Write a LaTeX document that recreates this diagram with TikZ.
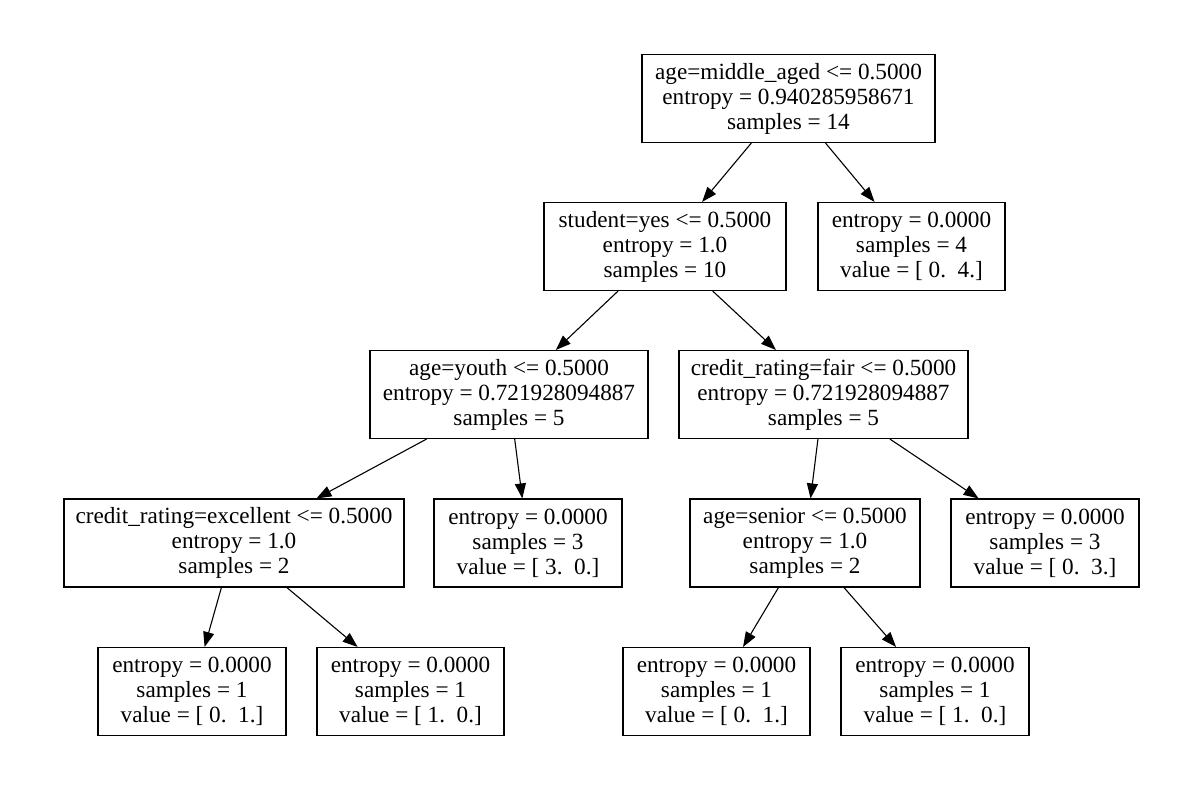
\documentclass[tikz,border=0pt]{standalone}
\usepackage{fontspec}
\setmainfont{Liberation Serif}
\usetikzlibrary{arrows.meta}
\begin{document}
\begin{tikzpicture}[x=1pt,y=-1pt,
  box/.style={draw,line width=1.1pt,align=center,inner sep=0pt,minimum height=88pt,
    font=\fontsize{23.2}{25}\selectfont},
  edge/.style={line width=1.1pt,-{Triangle[length=15pt,width=11pt]}}]
\useasboundingbox (0,0) rectangle (1194,788);
\fill[white] (0,0) rectangle (1194,788);
\node[box,minimum width=293pt] (n0) at (788.5,98.5) {age=middle\_aged <= 0.5000\\entropy = 0.940285958671\\samples = 14};
\node[box,minimum width=242pt] (n1) at (665,246.5) {student=yes <= 0.5000\\entropy = 1.0\\samples = 10};
\node[box,minimum width=187pt] (n2) at (911.5,246.5) {entropy = 0.0000\\samples = 4\\value = [ 0.\ \ 4.]};
\node[box,minimum width=278pt] (n3) at (509,394.5) {age=youth <= 0.5000\\entropy = 0.721928094887\\samples = 5};
\node[box,minimum width=289pt] (n4) at (823.5,394.5) {credit\_rating=fair <= 0.5000\\entropy = 0.721928094887\\samples = 5};
\node[box,minimum width=340pt] (n5) at (234,543) {credit\_rating=excellent <= 0.5000\\entropy = 1.0\\samples = 2};
\node[box,minimum width=188pt] (n6) at (528,543) {entropy = 0.0000\\samples = 3\\value = [ 3.\ \ 0.]};
\node[box,minimum width=230pt] (n7) at (805,543) {age=senior <= 0.5000\\entropy = 1.0\\samples = 2};
\node[box,minimum width=188pt] (n8) at (1045,543) {entropy = 0.0000\\samples = 3\\value = [ 0.\ \ 3.]};
\node[box,minimum width=188pt] (n9) at (192,691.5) {entropy = 0.0000\\samples = 1\\value = [ 0.\ \ 1.]};
\node[box,minimum width=187pt] (n10) at (410.5,691.5) {entropy = 0.0000\\samples = 1\\value = [ 1.\ \ 0.]};
\node[box,minimum width=187pt] (n11) at (716.5,691.5) {entropy = 0.0000\\samples = 1\\value = [ 0.\ \ 1.]};
\node[box,minimum width=188pt] (n12) at (935,691.5) {entropy = 0.0000\\samples = 1\\value = [ 1.\ \ 0.]};
\draw[edge] (n0) -- (n1);
\draw[edge] (n0) -- (n2);
\draw[edge] (n1) -- (n3);
\draw[edge] (n1) -- (n4);
\draw[edge] (n3) -- (n5);
\draw[edge] (n3) -- (n6);
\draw[edge] (n4) -- (n7);
\draw[edge] (n4) -- (n8);
\draw[edge] (n5) -- (n9);
\draw[edge] (n5) -- (n10);
\draw[edge] (n7) -- (n11);
\draw[edge] (n7) -- (n12);
\end{tikzpicture}
\end{document}
